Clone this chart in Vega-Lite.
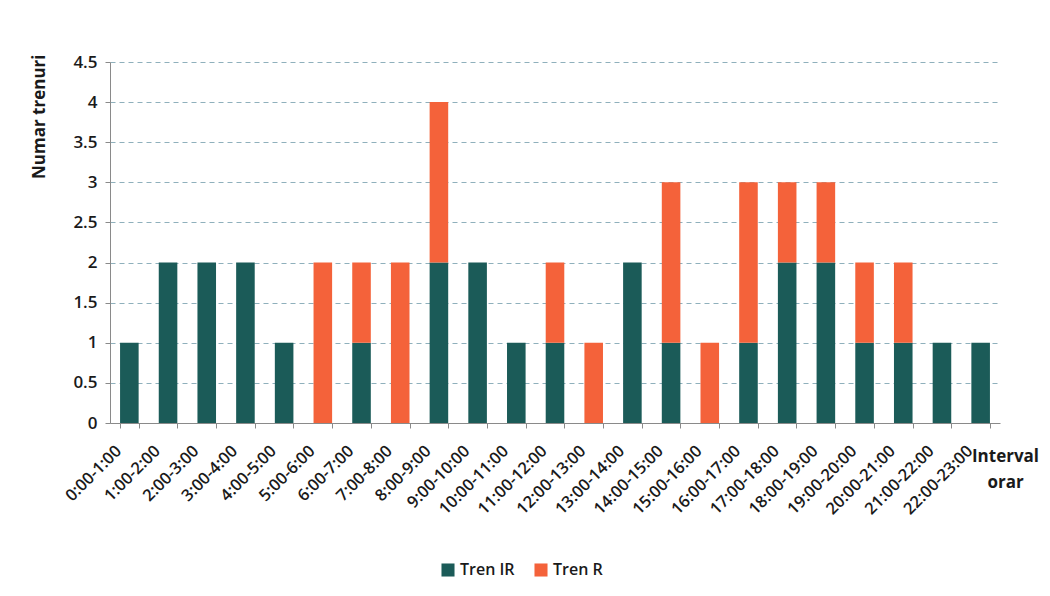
{
  "$schema": "https://vega.github.io/schema/vega-lite/v6.json",
  "autosize": "none",
  "width": 890,
  "height": 361,
  "padding": {"left": 110, "top": 62, "right": 50, "bottom": 173},
  "background": "white",
  "config": {
    "font": "Open Sans",
    "view": {"stroke": null}
  },
  "data": {
    "values": [
      {"interval": "0:00-1:00", "tip": "Tren IR", "ord": 1, "n": 1},
      {"interval": "1:00-2:00", "tip": "Tren IR", "ord": 1, "n": 2},
      {"interval": "2:00-3:00", "tip": "Tren IR", "ord": 1, "n": 2},
      {"interval": "3:00-4:00", "tip": "Tren IR", "ord": 1, "n": 2},
      {"interval": "4:00-5:00", "tip": "Tren IR", "ord": 1, "n": 1},
      {"interval": "5:00-6:00", "tip": "Tren IR", "ord": 1, "n": 0},
      {"interval": "6:00-7:00", "tip": "Tren IR", "ord": 1, "n": 1},
      {"interval": "7:00-8:00", "tip": "Tren IR", "ord": 1, "n": 0},
      {"interval": "8:00-9:00", "tip": "Tren IR", "ord": 1, "n": 2},
      {"interval": "9:00-10:00", "tip": "Tren IR", "ord": 1, "n": 2},
      {"interval": "10:00-11:00", "tip": "Tren IR", "ord": 1, "n": 1},
      {"interval": "11:00-12:00", "tip": "Tren IR", "ord": 1, "n": 1},
      {"interval": "12:00-13:00", "tip": "Tren IR", "ord": 1, "n": 0},
      {"interval": "13:00-14:00", "tip": "Tren IR", "ord": 1, "n": 2},
      {"interval": "14:00-15:00", "tip": "Tren IR", "ord": 1, "n": 1},
      {"interval": "15:00-16:00", "tip": "Tren IR", "ord": 1, "n": 0},
      {"interval": "16:00-17:00", "tip": "Tren IR", "ord": 1, "n": 1},
      {"interval": "17:00-18:00", "tip": "Tren IR", "ord": 1, "n": 2},
      {"interval": "18:00-19:00", "tip": "Tren IR", "ord": 1, "n": 2},
      {"interval": "19:00-20:00", "tip": "Tren IR", "ord": 1, "n": 1},
      {"interval": "20:00-21:00", "tip": "Tren IR", "ord": 1, "n": 1},
      {"interval": "21:00-22:00", "tip": "Tren IR", "ord": 1, "n": 1},
      {"interval": "22:00-23:00", "tip": "Tren IR", "ord": 1, "n": 1},
      {"interval": "0:00-1:00", "tip": "Tren R", "ord": 2, "n": 0},
      {"interval": "1:00-2:00", "tip": "Tren R", "ord": 2, "n": 0},
      {"interval": "2:00-3:00", "tip": "Tren R", "ord": 2, "n": 0},
      {"interval": "3:00-4:00", "tip": "Tren R", "ord": 2, "n": 0},
      {"interval": "4:00-5:00", "tip": "Tren R", "ord": 2, "n": 0},
      {"interval": "5:00-6:00", "tip": "Tren R", "ord": 2, "n": 2},
      {"interval": "6:00-7:00", "tip": "Tren R", "ord": 2, "n": 1},
      {"interval": "7:00-8:00", "tip": "Tren R", "ord": 2, "n": 2},
      {"interval": "8:00-9:00", "tip": "Tren R", "ord": 2, "n": 2},
      {"interval": "9:00-10:00", "tip": "Tren R", "ord": 2, "n": 0},
      {"interval": "10:00-11:00", "tip": "Tren R", "ord": 2, "n": 0},
      {"interval": "11:00-12:00", "tip": "Tren R", "ord": 2, "n": 1},
      {"interval": "12:00-13:00", "tip": "Tren R", "ord": 2, "n": 1},
      {"interval": "13:00-14:00", "tip": "Tren R", "ord": 2, "n": 0},
      {"interval": "14:00-15:00", "tip": "Tren R", "ord": 2, "n": 2},
      {"interval": "15:00-16:00", "tip": "Tren R", "ord": 2, "n": 1},
      {"interval": "16:00-17:00", "tip": "Tren R", "ord": 2, "n": 2},
      {"interval": "17:00-18:00", "tip": "Tren R", "ord": 2, "n": 1},
      {"interval": "18:00-19:00", "tip": "Tren R", "ord": 2, "n": 1},
      {"interval": "19:00-20:00", "tip": "Tren R", "ord": 2, "n": 1},
      {"interval": "20:00-21:00", "tip": "Tren R", "ord": 2, "n": 1},
      {"interval": "21:00-22:00", "tip": "Tren R", "ord": 2, "n": 0},
      {"interval": "22:00-23:00", "tip": "Tren R", "ord": 2, "n": 0}
    ]
  },
  "mark": {"type": "bar"},
  "encoding": {
    "x": {
      "field": "interval",
      "type": "nominal",
      "sort": null,
      "scale": {"paddingInner": 0.52, "paddingOuter": 0.26},
      "axis": {
        "title": ["Interval", "orar"],
        "titleFont": "Open Sans",
        "titleFontSize": 17,
        "titleFontWeight": "bold",
        "titleColor": "#1a1a1a",
        "titleAlign": "center",
        "titleBaseline": "top",
        "titleLineHeight": 26,
        "titleX": 895,
        "titleY": 25,
        "labelAngle": -45,
        "labelAlign": "right",
        "labelBaseline": "middle",
        "labelFontSize": 16.5,
        "labelFontWeight": 600,
        "labelColor": "#1a1a1a",
        "labelPadding": 20,
        "labelOffset": -11,
        "domainColor": "#8a8a8a",
        "tickColor": "#8a8a8a",
        "tickSize": 5,
        "tickBand": "extent",
        "grid": false
      }
    },
    "y": {
      "field": "n",
      "type": "quantitative",
      "aggregate": "sum",
      "stack": "zero",
      "scale": {"domain": [0, 4.5], "nice": false},
      "axis": {
        "title": "Numar trenuri",
        "titleFont": "Open Sans",
        "titleFontSize": 17,
        "titleFontWeight": "bold",
        "titleColor": "#1a1a1a",
        "titleAnchor": "end",
        "titleX": -62,
        "titleY": -8,
        "values": [0, 0.5, 1, 1.5, 2, 2.5, 3, 3.5, 4, 4.5],
        "format": "~g",
        "labelFontSize": 17,
        "labelFontWeight": 600,
        "labelColor": "#1a1a1a",
        "labelPadding": 8,
        "tickSize": 5,
        "tickColor": "#8a8a8a",
        "domainColor": "#8a8a8a",
        "grid": true,
        "gridColor": "#8fb0bc",
        "gridDash": [5, 4],
        "gridWidth": 1.2
      }
    },
    "color": {
      "field": "tip",
      "type": "nominal",
      "scale": {"domain": ["Tren IR", "Tren R"], "range": ["#1b5b58", "#f4623a"]},
      "legend": {
        "title": null,
        "orient": "none",
        "direction": "horizontal",
        "legendX": 330,
        "legendY": 500,
        "symbolType": "square",
        "symbolSize": 170,
        "symbolStrokeWidth": 0,
        "labelFontSize": 16,
        "labelFontWeight": 600,
        "labelColor": "#1a1a1a",
        "columnPadding": 18,
        "labelOffset": 4
      }
    },
    "order": {"field": "ord", "type": "quantitative"}
  }
}
